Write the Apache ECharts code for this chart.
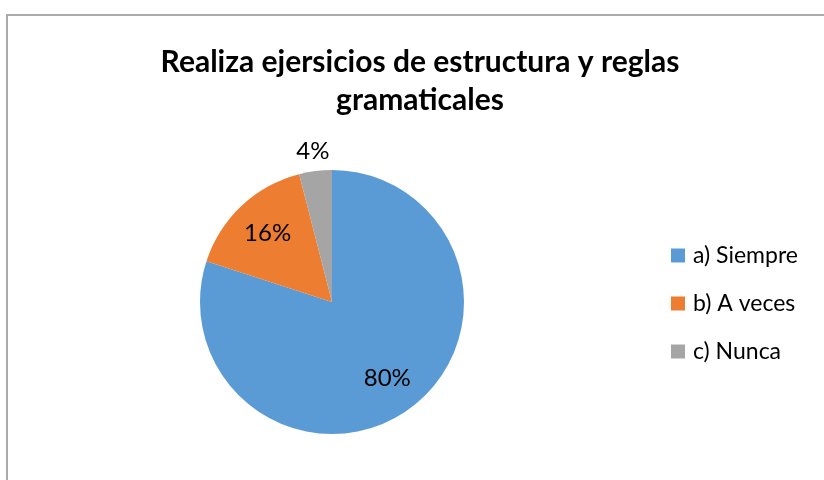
<!DOCTYPE html>
<html><head><meta charset="utf-8">
<script src="https://cdn.jsdelivr.net/npm/echarts@6/dist/echarts.min.js"></script>
<style>html,body{margin:0;padding:0;background:#fff}#c{width:824px;height:480px}</style>
</head><body><div id="c"></div>
<script>
var titleText = 'Realiza ejersicios de estructura y reglas\ngramaticales';
var categories = ['a) Siempre', 'b) A veces', 'c) Nunca'];
var values = [80, 16, 4];
var colors = ['#5B9BD5', '#ED7D31', '#A5A5A5'];

var FONT = 'Lato, "Open Sans", sans-serif';
var chart = echarts.init(document.getElementById('c'), null, {renderer: 'canvas'});

function fmt(p) { return p.value + '%'; }

var mainData = categories.map(function (c, i) {
  return {name: c, value: values[i], itemStyle: {color: colors[i]}};
});
var innerLabelData = categories.map(function (c, i) {
  return {name: c, value: values[i], label: {show: i < 2}};
});
var outerLabelData = categories.map(function (c, i) {
  return {name: c, value: values[i], label: {show: i === 2}};
});
var labelStyle = {position: 'inside', formatter: fmt, fontSize: 24, color: '#000', fontFamily: FONT};
var ghost = {
  type: 'pie', center: [332, 302], startAngle: 90, clockwise: true, silent: true,
  itemStyle: {color: 'rgba(0,0,0,0)'}, labelLine: {show: false}, emphasis: {disabled: true},
  legendHoverLink: false, avoidLabelOverlap: false
};

chart.setOption({
  animation: false,
  color: colors,
  title: {
    text: titleText, left: 415, top: 38, textAlign: 'center',
    textStyle: {fontSize: 30, fontWeight: 'bold', color: '#000', fontFamily: FONT, lineHeight: 38}
  },
  legend: {
    orient: 'vertical', left: 666, top: 239, itemWidth: 14, itemHeight: 14, itemGap: 25,
    icon: 'rect', data: categories,
    textStyle: {fontSize: 23, color: '#000', fontFamily: FONT, padding: [0, 0, 0, 3]}
  },
  graphic: [{
    type: 'rect', shape: {x: 7, y: 15, width: 900, height: 600}, silent: true,
    style: {fill: 'none', stroke: '#AAAAAA', lineWidth: 2}
  }],
  series: [
    {
      type: 'pie', center: [332, 302], radius: [0, 132], startAngle: 90, clockwise: true,
      data: mainData, label: {show: false}, labelLine: {show: false},
      itemStyle: {borderColor: '#fff', borderWidth: 0}, emphasis: {scale: false}
    },
    Object.assign({}, ghost, {radius: [0, 182], data: innerLabelData, label: labelStyle}),
    Object.assign({}, ghost, {radius: [0, 298], data: outerLabelData, label: labelStyle})
  ]
});
</script></body></html>
